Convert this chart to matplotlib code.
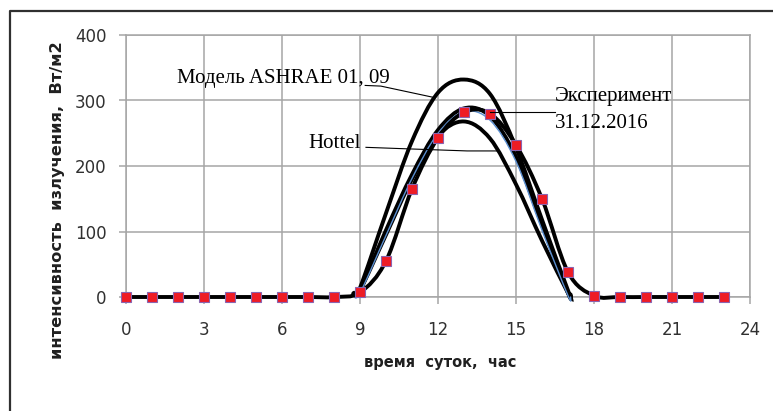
import numpy as np
import matplotlib
matplotlib.use("Agg")
import matplotlib.pyplot as plt
from matplotlib.path import Path
from matplotlib.patches import PathPatch
from matplotlib.lines import Line2D

# ---- data ----
hours = list(range(24))
experiment = [0, 0, 0, 0, 0, 0, 0, 0, 0, 7, 55, 165, 243, 282, 280, 232, 150, 38, 2, 0, 0, 0, 0, 0]

model_hours = [8.75, 9, 10, 11, 12, 13, 14, 15, 16, 17, 17.1]
ashrae = [6, 14, 128, 238, 312, 332, 310, 228, 118, 10, 4]
hottel = [5, 10, 95, 180, 246, 268, 242, 172, 86, 6, 2]
model_b = [5, 10, 102, 187, 255, 288, 276, 214, 110, 6, 2]
model_blue = [3, 6, 94, 181, 250, 283, 270, 207, 102, 2, 0]

xticks = [0, 3, 6, 9, 12, 15, 18, 21, 24]
yticks = [0, 100, 200, 300, 400]

xlabel = "время  суток,  час"
ylabel = "интенсивность  излучения,  Вт/м2"


def smooth_path(xs, ys):
    P = np.column_stack([xs, ys]).astype(float)
    n = len(P)
    verts = [P[0]]
    codes = [Path.MOVETO]
    for i in range(n - 1):
        p0 = P[i - 1] if i > 0 else P[i]
        p1 = P[i]
        p2 = P[i + 1]
        p3 = P[i + 2] if i + 2 < n else P[i + 1]
        c1 = p1 + (p2 - p0) / 6.0
        c2 = p2 - (p3 - p1) / 6.0
        verts += [c1, c2, p2]
        codes += [Path.CURVE4] * 3
    return Path(verts, codes)


fig = plt.figure(figsize=(7.73, 4.11), dpi=100)
ax = fig.add_axes([126 / 773, 1 - 297 / 411, 624 / 773, 262 / 411])

gridc = "#a6a6a6"
ax.set_xlim(0, 24)
ax.set_ylim(0, 400)
ax.set_xticks(xticks)
ax.set_yticks(yticks)
ax.grid(True, color=gridc, lw=1.1)
ax.set_axisbelow(True)
for s in ax.spines.values():
    s.set_color(gridc)
    s.set_linewidth(1.1)
ax.tick_params(axis="both", color=gridc, length=5, width=1.1,
               labelsize=12, labelcolor="#303030")
ax.tick_params(axis="x", pad=12)
ax.tick_params(axis="y", pad=9)

# model curves
for ys, lw, col, z in [(ashrae, 2.8, "black", 3), (hottel, 2.8, "black", 3),
                       (model_b, 2.8, "black", 3), (model_blue, 1.0, "#5b8fd0", 4)]:
    pp = PathPatch(smooth_path(model_hours, ys), fill=False, lw=lw,
                   edgecolor=col, zorder=z, clip_on=False, capstyle="round")
    ax.add_patch(pp)

# experiment curve
pp = PathPatch(smooth_path(hours, experiment), fill=False, lw=2.8,
               edgecolor="black", zorder=5, clip_on=False)
ax.add_patch(pp)
ax.plot(hours, experiment, ls="none", marker="s", ms=7.5, mfc="#ee1c25",
        mec="#8a64b0", mew=0.8, zorder=6, clip_on=False)

# annotations
serif = "Liberation Serif"
fs = 15
ax.text(1.96, 326, "Модель ASHRAE 01, 09", family=serif, fontsize=fs,
        ha="left", va="baseline", zorder=7)
ax.text(7.0, 228, "Hottel", family=serif, fontsize=fs,
        ha="left", va="baseline", zorder=7)
ax.text(16.5, 300, "Эксперимент", family=serif, fontsize=fs,
        ha="left", va="baseline", zorder=7)
ax.text(16.5, 258, "31.12.2016", family=serif, fontsize=fs,
        ha="left", va="baseline", zorder=7)
ax.add_line(Line2D([9.2, 9.8, 11.8], [323, 322, 305], color="black", lw=0.8, zorder=7))
ax.add_line(Line2D([9.23, 10.54, 13.12, 14.27], [228.5, 226.6, 223, 223],
                   color="black", lw=0.8, zorder=7))
ax.add_line(Line2D([14.0, 16.5], [282, 282], color="black", lw=0.8, zorder=7))

ax.set_xlabel(xlabel, fontsize=10.5, fontweight="bold", color="#202020")
ax.xaxis.set_label_coords(0.503, -0.222)
ax.set_ylabel(ylabel, fontsize=11.7, fontweight="bold", color="#202020")
ax.yaxis.set_label_coords(-61 / 624, 0.37)

# outer frame (left and top edges visible)
fig.add_artist(Line2D([10 / 773, 10 / 773, 1.0], [0.0, 1 - 11 / 411, 1 - 11 / 411],
                      transform=fig.transFigure, color="#303030", lw=1.6))

fig.savefig("out.png", dpi=100)
